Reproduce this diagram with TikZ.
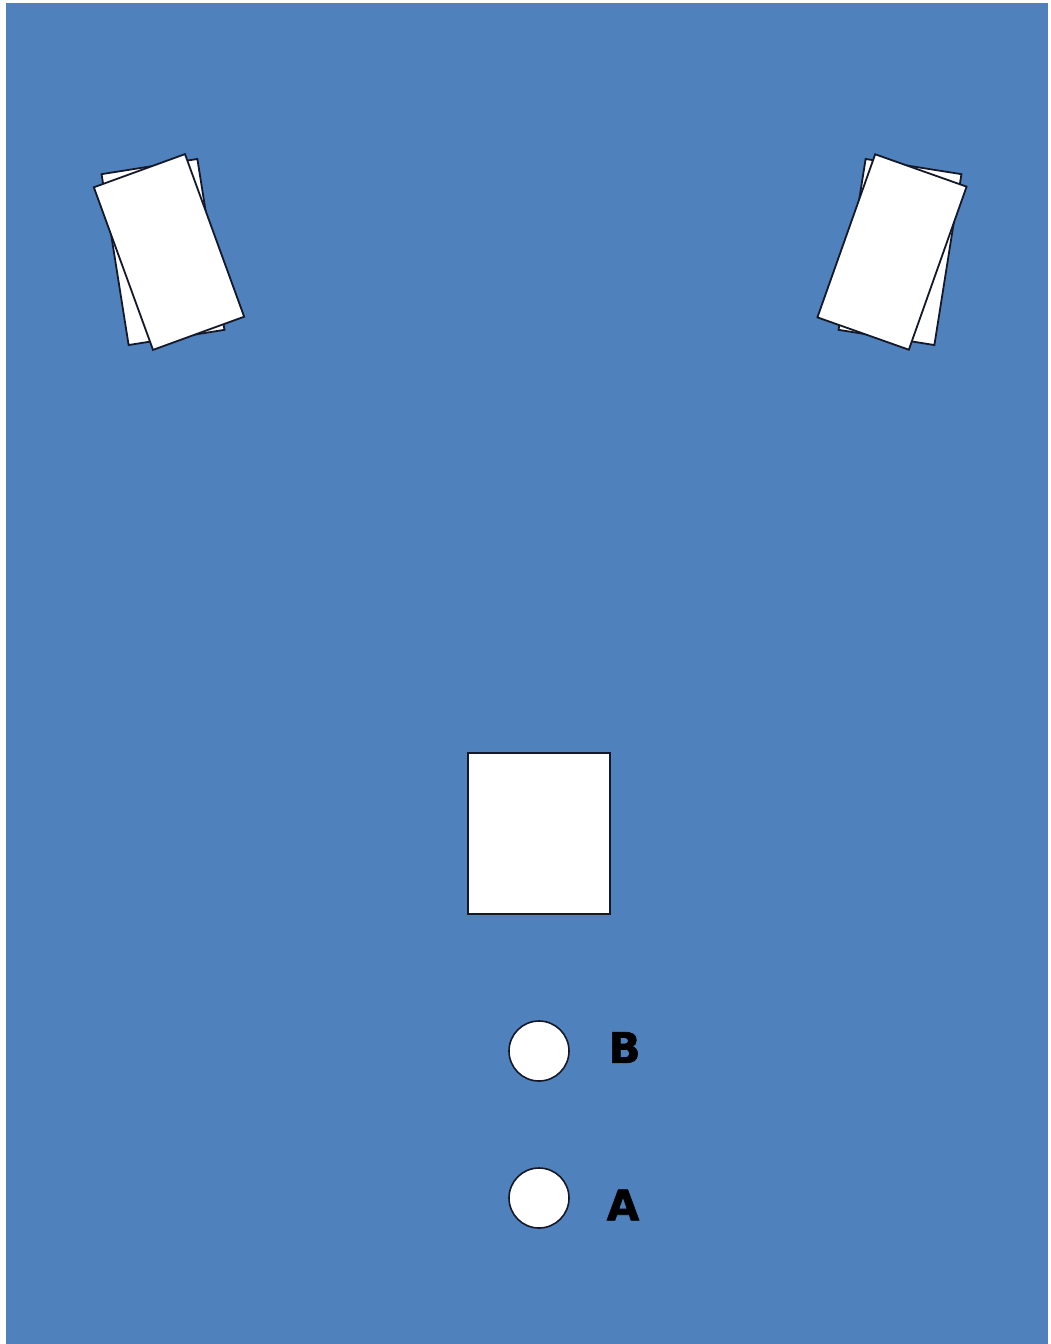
\documentclass[tikz,border=0pt]{standalone}
\usepackage{fontspec}
\newfontfamily\labelfont{DejaVu Sans}[BoldFeatures={FakeBold=1.6}]
\definecolor{stage}{RGB}{79,129,189}
\definecolor{edge}{RGB}{20,24,40}
\begin{document}
\begin{tikzpicture}[x=1pt,y=-1pt,
  card/.style={draw=edge, fill=white, line width=1.8pt, minimum width=97pt, minimum height=173pt, inner sep=0pt},
  block/.style={draw=edge, fill=white, line width=2pt, minimum width=142pt, minimum height=161pt, inner sep=0pt},
  spot/.style={circle, draw=edge, fill=white, line width=1.6pt, minimum size=60pt, inner sep=0pt},
  tag/.style={inner sep=0pt, font=\labelfont\bfseries\fontsize{42}{42}\selectfont, text=black}]
\useasboundingbox (0,0) rectangle (1050,1344);
\fill[white] (0,0) rectangle (1050,1344);
\fill[stage] (6,3) rectangle (1048,1344);
\node[card, rotate=9] (lback) at (163,252) {};
\node[card, rotate=20] (lfront) at (169,252) {};
\node[card, rotate=-9] (rback) at (900,252) {};
\node[card, rotate=-19.5] (rfront) at (892,252) {};
\node[block] (table) at (539,833.5) {};
\node[spot] (b) at (539,1051) {};
\node[spot] (a) at (539,1198) {};
\node[tag] (lb) at (624.5,1047.5) {B};
\node[tag] (la) at (623,1205) {A};
\end{tikzpicture}
\end{document}
